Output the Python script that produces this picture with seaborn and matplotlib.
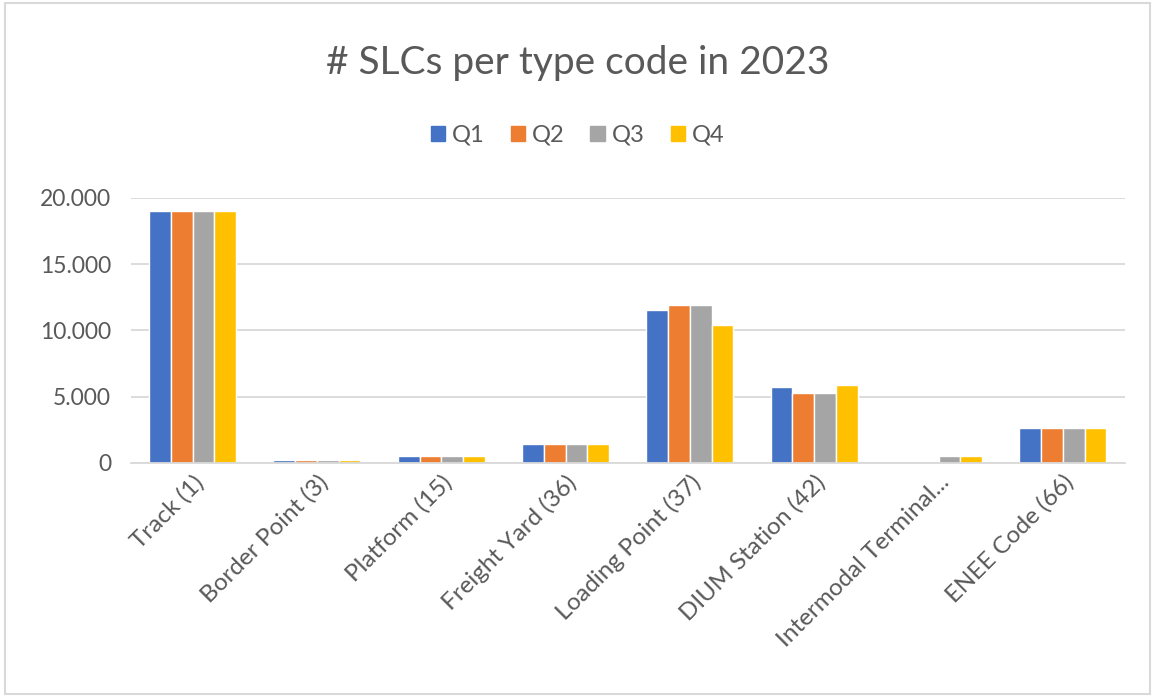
import pandas as pd
import seaborn as sns
import matplotlib.pyplot as plt
from matplotlib.ticker import FuncFormatter
from matplotlib.patches import Rectangle

# Data
categories = ['Track (1)', 'Border Point (3)', 'Platform (15)', 'Freight Yard (36)',
              'Loading Point (37)', 'DIUM Station (42)', 'Intermodal Terminal...', 'ENEE Code (66)']
quarters = ['Q1', 'Q2', 'Q3', 'Q4']
q1 = [19050, 180, 550, 1450, 11530, 5740, 0, 2630]
q2 = [19050, 180, 550, 1450, 11880, 5290, 0, 2630]
q3 = [19050, 180, 550, 1450, 11880, 5290, 550, 2630]
q4 = [19050, 180, 550, 1450, 10380, 5860, 530, 2630]
colors = ['#4472C4', '#ED7D31', '#A5A5A5', '#FFC000']

rows = []
for q, vals in zip(quarters, [q1, q2, q3, q4]):
  for c, v in zip(categories, vals):
    rows.append({'category': c, 'quarter': q, 'count': v})
df = pd.DataFrame(rows)

sns.set_style('white')
plt.rcParams['font.family'] = ['Lato', 'DejaVu Sans']
text_col = '#595959'

fig = plt.figure(figsize=(11.55, 6.97), dpi=100)
ax = fig.add_axes([0.113, 0.336, 0.861, 0.380])

sns.barplot(data=df, x='category', y='count', hue='quarter', palette=colors,
            saturation=1, width=0.7, edgecolor='white', linewidth=1, ax=ax, legend=False)

ax.set_ylim(0, 20000)
ax.set_yticks([0, 5000, 10000, 15000, 20000])
ax.yaxis.set_major_formatter(FuncFormatter(lambda v, p: f'{int(v):,}'.replace(',', '.')))
ax.yaxis.grid(True, color='#D9D9D9', linewidth=1.3)
ax.set_axisbelow(True)
for s in ['top', 'right', 'left']:
  ax.spines[s].set_visible(False)
ax.spines['bottom'].set_color('#D9D9D9')
ax.spines['bottom'].set_linewidth(1.3)
ax.set_xlabel('')
ax.set_ylabel('')
ax.tick_params(axis='y', labelsize=16.5, colors=text_col, length=0, pad=14)
ax.tick_params(axis='x', labelsize=17.5, colors=text_col, length=0, pad=6)
plt.setp(ax.get_xticklabels(), rotation=45, ha='right', rotation_mode='anchor')

fig.text(0.5, 0.91, '# SLCs per type code in 2023', ha='center', va='center',
         fontsize=28, color=text_col)

handles = [Rectangle((0, 0), 1, 1, color=c) for c in colors]
fig.legend(handles, quarters, loc='center', bbox_to_anchor=(0.5, 0.806), ncol=4,
           frameon=False, fontsize=17, labelcolor=text_col, handlelength=0.6,
           handleheight=0.6, handletextpad=0.3, columnspacing=1.1)

# light frame around the chart like the Excel chart area
fig.patches.append(Rectangle((0.004, 0.004), 0.992, 0.992, transform=fig.transFigure,
                             fill=False, edgecolor='#D9D9D9', linewidth=1.5))

fig.savefig('out.png', dpi=100)
